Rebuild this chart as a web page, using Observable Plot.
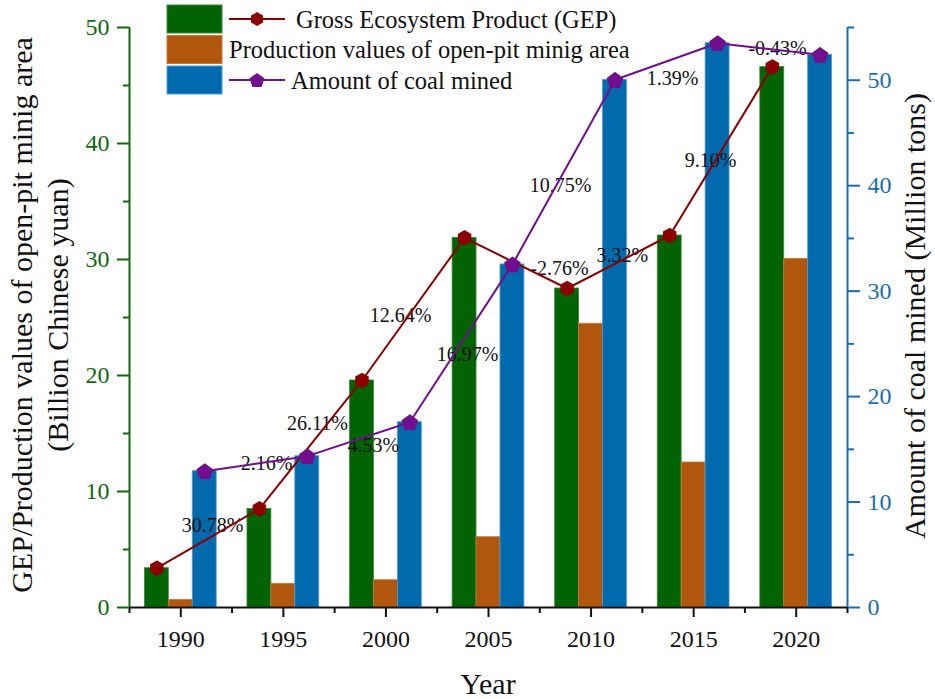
<!DOCTYPE html>
<html>
<head>
<meta charset="utf-8">
<script src="https://cdn.jsdelivr.net/npm/d3@7"></script>
<script src="https://cdn.jsdelivr.net/npm/@observablehq/plot@0.6"></script>
<style>
  html, body { margin: 0; padding: 0; background: #fff; }
  #chart { width: 935px; height: 699px; }
  #chart svg text { font-family: "Liberation Serif", "Times New Roman", serif; }
</style>
</head>
<body>
<div id="chart"></div>
<script>
// ---- data ----
const years = [1990, 1995, 2000, 2005, 2010, 2015, 2020];
const gep = [3.39, 8.5, 19.57, 31.87, 27.5, 32.07, 46.6];          // Billion yuan
const openPit = [0.66, 2.04, 2.35, 6.06, 24.46, 12.5, 30.06];       // Billion yuan
const coal = [12.93, 14.35, 17.57, 32.53, 50.04, 53.51, 52.41];     // Million tons
const pctText = ["30.78%", "2.16%", "26.11%", "4.53%", "12.64%", "16.97%", "-2.76%", "3.32%", "10.75%", "1.39%", "9.10%", "-0.43%"];
const pctX = [1991.55, 1994.18, 1996.66, 1999.39, 2000.71, 2003.98, 2008.46, 2011.52, 2008.51, 2013.97, 2015.82, 2019.09];
const pctY = [7.07, 12.41, 15.89, 13.97, 25.17, 21.81, 29.22, 30.34, 36.38, 45.6, 38.53, 48.2];
const leftTicks = [0, 10, 20, 30, 40, 50];
const leftMinor = [5, 15, 25, 35, 45];
const rightTicks = [0, 10, 20, 30, 40, 50];
const rightMinor = [5, 15, 25, 35, 45, 55];
const xTicks = years;
const xMinor = [1987.5, 1992.5, 1997.5, 2002.5, 2007.5, 2012.5, 2017.5, 2022.5];
const legendLabels = ["Gross Ecosystem Product (GEP)", "Production values of open-pit minig area", "Amount of coal mined"];

// ---- styling ----
const GREEN = "#026302", ORANGE = "#b0560d", BLUE = "#006aad";
const RED = "#8b0000", PURPLE = "#710f8e";
const AX_GREEN = "#0f6a0f", AX_BLUE = "#1a6eb0";
const FONT = "'Liberation Serif', 'Times New Roman', serif";
const LEFT_MAX = 50, RIGHT_MAX = 55;
const k = LEFT_MAX / RIGHT_MAX; // right-axis value -> left-axis units
const BW = 1.1667, HALF = 1.75; // bar width and group half-width (years)

const rows = years.map((y, i) => ({year: y, gep: gep[i], pit: openPit[i], coal: coal[i] * k, coalRaw: coal[i]}));
const labels = pctText.map((t, i) => ({t, x: pctX[i], y: pctY[i]}));

const hexagon = {
  draw(ctx, size) {
    const s = Math.sqrt(size / (1.5 * Math.sqrt(3)));
    for (let i = 0; i < 6; i++) {
      const a = -Math.PI / 2 + i * Math.PI / 3;
      const px = s * Math.cos(a), py = s * Math.sin(a);
      i ? ctx.lineTo(px, py) : ctx.moveTo(px, py);
    }
    ctx.closePath();
  }
};
const pentagon = {
  draw(ctx, size) {
    const R = Math.sqrt(size / (2.5 * Math.sin(2 * Math.PI / 5)));
    for (let i = 0; i < 5; i++) {
      const a = -Math.PI / 2 + i * 2 * Math.PI / 5;
      const px = R * Math.cos(a), py = R * Math.sin(a) + R * 0.1;
      i ? ctx.lineTo(px, py) : ctx.moveTo(px, py);
    }
    ctx.closePath();
  }
};

const svg = Plot.plot({
  width: 935,
  height: 699,
  marginLeft: 129,
  marginRight: 88,
  marginTop: 27,
  marginBottom: 92,
  style: {fontFamily: FONT, background: "#fff", overflow: "visible"},
  x: {domain: [1987.5, 2022.5], axis: null},
  y: {domain: [0, LEFT_MAX], axis: null},
  marks: [
    // bars
    Plot.rectY(rows, {x1: d => d.year - HALF, x2: d => d.year - HALF + BW, y: "gep", fill: GREEN, stroke: "#3f8a3f", strokeWidth: 0.8}),
    Plot.rectY(rows, {x1: d => d.year - HALF + BW, x2: d => d.year - HALF + 2 * BW, y: "pit", fill: ORANGE, stroke: "#c9793a", strokeWidth: 0.8}),
    Plot.rectY(rows, {x1: d => d.year - HALF + 2 * BW, x2: d => d.year + HALF, y: "coal", fill: BLUE, stroke: "#4f9bd3", strokeWidth: 0.8}),
    // percentage labels
    Plot.text(labels, {x: "x", y: "y", text: "t", fontSize: 20, fill: "#111"}),
    // lines
    Plot.line(rows, {x: d => d.year - HALF + BW / 2, y: "gep", stroke: RED, strokeWidth: 2}),
    Plot.line(rows, {x: d => d.year + HALF - BW / 2, y: "coal", stroke: PURPLE, strokeWidth: 2}),
    Plot.dot(rows, {x: d => d.year - HALF + BW / 2, y: "gep", symbol: hexagon, r: 6.3, fill: RED, stroke: RED}),
    Plot.dot(rows, {x: d => d.year + HALF - BW / 2, y: "coal", symbol: pentagon, r: 6.8, fill: PURPLE, stroke: PURPLE}),
    // axis lines
    Plot.ruleY([0], {stroke: "#111", strokeWidth: 2}),
    Plot.ruleX([1987.5], {stroke: AX_GREEN, strokeWidth: 2}),
    Plot.ruleX([2022.5], {stroke: AX_BLUE, strokeWidth: 2}),
    // x axis
    Plot.axisX({ticks: xTicks, tickSize: 10, tickPadding: 12, tickFormat: d => String(d), fontSize: 24, color: "#111", strokeWidth: 2, label: null}),
    Plot.axisX({ticks: xMinor, tickSize: 6, tickFormat: () => "", color: "#111", strokeWidth: 2, label: null}),
    // left axis
    Plot.axisY({anchor: "left", ticks: leftTicks, tickSize: 12, tickPadding: 8, fontSize: 24, color: AX_GREEN, strokeWidth: 2, label: null}),
    Plot.axisY({anchor: "left", ticks: leftMinor, tickSize: 6, tickFormat: () => "", color: AX_GREEN, strokeWidth: 2, label: null}),
    // right axis (coal, scaled)
    Plot.axisY({anchor: "right", ticks: rightTicks.map(v => v * k), tickFormat: d => String(Math.round(d / k)), tickSize: 12, tickPadding: 8, fontSize: 24, color: AX_BLUE, strokeWidth: 2, label: null}),
    Plot.axisY({anchor: "right", ticks: rightMinor.map(v => v * k), tickSize: 6, tickFormat: () => "", color: AX_BLUE, strokeWidth: 2, label: null})
  ]
});

document.getElementById("chart").appendChild(svg);

const s = d3.select(svg);
// enforce tick label size and font (numeric texts are axis tick labels)
s.selectAll("text").each(function () {
  if (/^\d+$/.test(this.textContent.trim())) {
    d3.select(this).style("font-size", "24px").style("font-family", FONT).attr("font-size", 24);
  }
});

// ---- axis titles ----
const titles = s.append("g").attr("fill", "#111").attr("text-anchor", "middle");
function title(tx, ty, rot, txt) {
  titles.append("text")
    .attr("transform", `translate(${tx},${ty})` + (rot ? " rotate(-90)" : ""))
    .attr("dominant-baseline", "central")
    .style("font-size", "30px")
    .style("font-family", FONT)
    .text(txt);
}
title(21, 315, true, "GEP/Production values of open-pit minig area");
title(57, 315, true, "(Billion Chinese yuan)");
title(914, 316, true, "Amount of coal mined (Million tons)");
title(488, 683, false, "Year");

// ---- legend ----
const lg = s.append("g").attr("fill", "#111").attr("text-anchor", "start");
const lgRows = [
  {fill: GREEN, stroke: "#3f8a3f", y: 5, text: legendLabels[0], tx: 296, line: RED, sym: hexagon, r: 6.3},
  {fill: ORANGE, stroke: "#c9793a", y: 35.5, text: legendLabels[1], tx: 229},
  {fill: BLUE, stroke: "#4f9bd3", y: 66, text: legendLabels[2], tx: 291, line: PURPLE, sym: pentagon, r: 6.8}
];
lgRows.forEach(r => {
  const cy = r.y + 14;
  lg.append("rect").attr("x", 167).attr("y", r.y).attr("width", 55).attr("height", 28).attr("fill", r.fill).attr("stroke", r.stroke).attr("stroke-width", 1);
  if (r.line) {
    lg.append("line").attr("x1", 229).attr("x2", 285).attr("y1", cy).attr("y2", cy).attr("stroke", r.line).attr("stroke-width", 2);
    const p = d3.path();
    r.sym.draw(p, Math.PI * r.r * r.r);
    lg.append("path").attr("d", p.toString()).attr("transform", `translate(257,${cy})`).attr("fill", r.line);
  }
  lg.append("text").attr("x", r.tx).attr("y", cy).attr("dominant-baseline", "central")
    .style("font-size", "24.5px").style("font-family", FONT).text(r.text);
});
</script>
</body>
</html>
